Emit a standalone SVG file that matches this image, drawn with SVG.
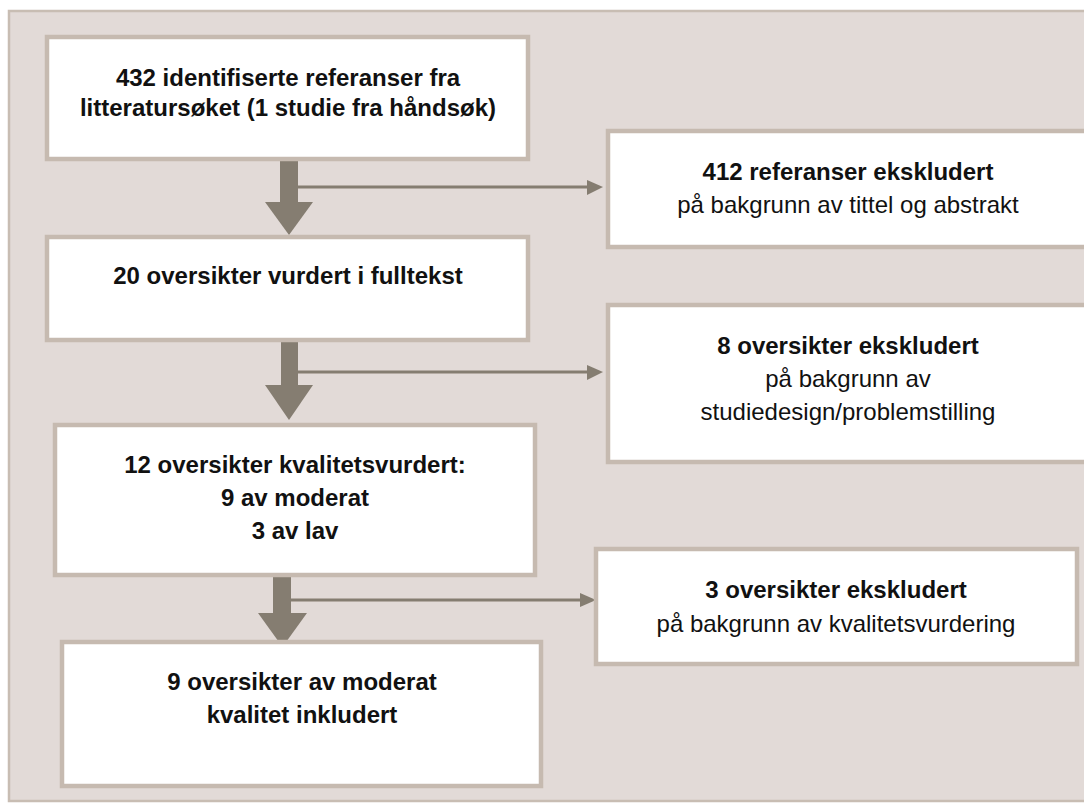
<svg xmlns="http://www.w3.org/2000/svg" width="1084" height="807" viewBox="0 0 1084 807">
<style>
.bg{fill:#e2dad7;stroke:#c8bdb3;stroke-width:2.5}
.box{fill:#ffffff;stroke:#c6bab0;stroke-width:4.5}
.t{font-family:"Liberation Sans",Arial,sans-serif;font-size:24px;fill:#111;text-anchor:middle}
.b{font-weight:bold}
.shaft{fill:#857d71}
.line{stroke:#857d71;stroke-width:3;fill:none}
</style>
<rect width="1084" height="807" fill="#ffffff"/>
<rect class="bg" x="9" y="11" width="1100" height="790"/>
<g id="connectors">
  <rect class="shaft" x="280" y="158" width="18" height="45"/>
  <polygon class="shaft" points="265,202 313,202 289,235"/>
  <line class="line" x1="298" y1="187" x2="590" y2="187"/>
  <polygon class="shaft" points="587,180 603,187 587,195"/>

  <rect class="shaft" x="281" y="342" width="17" height="44"/>
  <polygon class="shaft" points="265,385 313,385 289,420"/>
  <line class="line" x1="298" y1="372" x2="590" y2="372"/>
  <polygon class="shaft" points="587,365 603,372 587,380"/>

  <rect class="shaft" x="273" y="577" width="18" height="37"/>
  <polygon class="shaft" points="258,613 307,613 282.5,647"/>
  <line class="line" x1="291" y1="600" x2="583" y2="600"/>
  <polygon class="shaft" points="580,593 596,600 580,607"/>
</g>
<g id="n1">
  <rect class="box" x="47" y="37" width="481" height="122"/>
  <text class="t b" x="288" y="86">432 identifiserte referanser fra</text>
  <text class="t b" x="288" y="116">litteratursøket (1 studie fra håndsøk)</text>
</g>
<g id="n2">
  <rect class="box" x="47" y="237" width="481" height="103"/>
  <text class="t b" x="288" y="284">20 oversikter vurdert i fulltekst</text>
</g>
<g id="n3">
  <rect class="box" x="55" y="425" width="480" height="150"/>
  <text class="t b" x="295" y="473">12 oversikter kvalitetsvurdert:</text>
  <text class="t b" x="295" y="506">9 av moderat</text>
  <text class="t b" x="295" y="539">3 av lav</text>
</g>
<g id="n4">
  <rect class="box" x="62" y="642" width="479" height="144"/>
  <text class="t b" x="302" y="690">9 oversikter av moderat</text>
  <text class="t b" x="302" y="723">kvalitet inkludert</text>
</g>
<g id="e1">
  <rect class="box" x="608" y="131" width="500" height="116"/>
  <text class="t b" x="848" y="180">412 referanser ekskludert</text>
  <text class="t" x="848" y="213">på bakgrunn av tittel og abstrakt</text>
</g>
<g id="e2">
  <rect class="box" x="608" y="305" width="500" height="157"/>
  <text class="t b" x="848" y="354">8 oversikter ekskludert</text>
  <text class="t" x="848" y="387">på bakgrunn av</text>
  <text class="t" x="848" y="420">studiedesign/problemstilling</text>
</g>
<g id="e3">
  <rect class="box" x="596" y="549" width="481" height="115"/>
  <text class="t b" x="836" y="598">3 oversikter ekskludert</text>
  <text class="t" x="836" y="632">på bakgrunn av kvalitetsvurdering</text>
</g>
</svg>
